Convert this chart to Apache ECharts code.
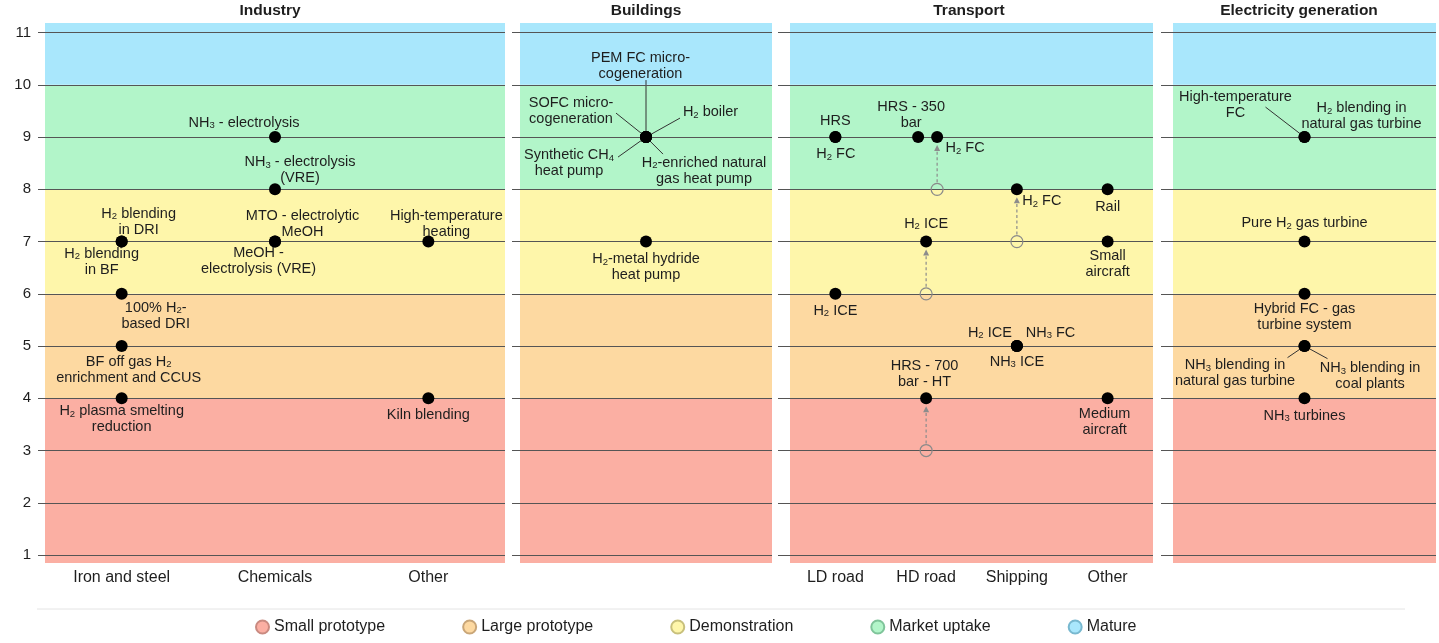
<!DOCTYPE html>
<html><head><meta charset="utf-8">
<script src="https://cdn.jsdelivr.net/npm/echarts@6/dist/echarts.min.js"></script>
<style>html,body{margin:0;padding:0;background:#fff}#chart{width:1439px;height:643px}</style>
</head><body><div id="chart"></div>
<script>
// ---------------- DATA ----------------
const stageNames = ['Small prototype', 'Large prototype', 'Demonstration', 'Market uptake', 'Mature'];
const stageBreaks = [4, 6, 8, 10];            // TRL boundaries between stages
const trlTicks = [1, 2, 3, 4, 5, 6, 7, 8, 9, 10, 11];
const sectorNames = ['Industry', 'Buildings', 'Transport', 'Electricity generation'];

const industryCats = ['Iron and steel', 'Chemicals', 'Other'];
const buildingsCats = [''];
const transportCats = ['LD road', 'HD road', 'Shipping', 'Other'];
const electricityCats = [''];

// [category, TRL, technology]  ("_n" = subscript)
const industryPoints = [
  ['Iron and steel', 7, 'H_2 blending\nin DRI'],
  ['Iron and steel', 7, 'H_2 blending\nin BF'],
  ['Iron and steel', 6, '100% H_2-\nbased DRI'],
  ['Iron and steel', 5, 'BF off gas H_2\nenrichment and CCUS'],
  ['Iron and steel', 4, 'H_2 plasma smelting\nreduction'],
  ['Chemicals', 9, 'NH_3 - electrolysis'],
  ['Chemicals', 8, 'NH_3 - electrolysis\n(VRE)'],
  ['Chemicals', 7, 'MTO - electrolytic\nMeOH'],
  ['Chemicals', 7, 'MeOH -\nelectrolysis (VRE)'],
  ['Other', 7, 'High-temperature\nheating'],
  ['Other', 4, 'Kiln blending']
];
const buildingsPoints = [
  ['', 9, 'PEM FC micro-\ncogeneration'],
  ['', 9, 'SOFC micro-\ncogeneration'],
  ['', 9, 'H_2 boiler'],
  ['', 9, 'Synthetic CH_4\nheat pump'],
  ['', 9, 'H_2-enriched natural\ngas heat pump'],
  ['', 7, 'H_2-metal hydride\nheat pump']
];
const transportPoints = [
  ['LD road', 9, 'HRS'],
  ['LD road', 9, 'H_2 FC'],
  ['LD road', 6, 'H_2 ICE'],
  ['HD road', 9, 'HRS - 350\nbar'],
  ['HD road', 9, 'H_2 FC'],
  ['HD road', 7, 'H_2 ICE'],
  ['HD road', 4, 'HRS - 700\nbar - HT'],
  ['Shipping', 8, 'H_2 FC'],
  ['Shipping', 5, 'H_2 ICE'],
  ['Shipping', 5, 'NH_3 FC'],
  ['Shipping', 5, 'NH_3 ICE'],
  ['Other', 8, 'Rail'],
  ['Other', 7, 'Small\naircraft'],
  ['Other', 4, 'Medium\naircraft']
];
// [category, previous TRL, new TRL]
const transportMoves = [
  ['HD road', 8, 9],
  ['HD road', 6, 7],
  ['HD road', 3, 4],
  ['Shipping', 7, 8]
];
const electricityPoints = [
  ['', 9, 'High-temperature\nFC'],
  ['', 9, 'H_2 blending in\nnatural gas turbine'],
  ['', 7, 'Pure H_2 gas turbine'],
  ['', 6, 'Hybrid FC - gas\nturbine system'],
  ['', 5, 'NH_3 blending in\nnatural gas turbine'],
  ['', 5, 'NH_3 blending in\ncoal plants'],
  ['', 4, 'NH_3 turbines']
];

// ---------------- STYLE / LAYOUT ----------------
const FONT = '"Liberation Sans", Arial, Helvetica, sans-serif';
const TXT = '#1e1e1e';
const stageColors = ['#fbafa3', '#fdd9a1', '#fef6aa', '#b2f5c9', '#a9e7fc'];
const stageBorders = ['#c98a80', '#c9a678', '#c8c07c', '#7fc49a', '#78b8cf'];
const Y_MIN = 0.847, Y_MAX = 11.184;
const gridBoxes = [
  { left: 45, width: 460 }, { left: 520, width: 252 },
  { left: 790, width: 363 }, { left: 1173, width: 263 }
];
const tickLens = [7, 8, 12, 12];
const titleCenters = [270, 646, 969, 1299];

// label offsets (label centre relative to dot), leader end points, horizontal dot shift
const industryLayout = [
  { off: [17, -20] }, { off: [-20, 20] }, { off: [34, 22] }, { off: [7, 23.5] }, { off: [0, 21] },
  { off: [-31, -14.5] }, { off: [25, -19] }, { off: [27.5, -17.5] }, { off: [-16.5, 19] },
  { off: [18, -17.5] }, { off: [0, 17] }
];
const buildingsLayout = [
  { off: [-5.5, -71.5], lead: [0, -57] },
  { off: [-75, -26], lead: [-30, -24] },
  { off: [64.5, -25], lead: [34, -19] },
  { off: [-77, 26], lead: [-28, 20] },
  { off: [58, 33.5], lead: [17, 17] },
  { off: [0, 25.5] }
];
const transportLayout = [
  { off: [0, -16] }, { off: [0.5, 17] }, { off: [0, 17] },
  { off: [-7, -21.7], shift: -8 }, { off: [28, 11], shift: 11 },
  { off: [0, -18] }, { off: [-1.6, -24] },
  { off: [25, 12] }, { off: [-27, -13.3] }, { off: [33.6, -13.3] }, { off: [0, 15.7] },
  { off: [0, 18] }, { off: [0, 22.7] }, { off: [-3, 24] }
];
const transportMoveShift = [11, 0, 0, 0];
const electricityLayout = [
  { off: [-69, -32], lead: [-39, -30] },
  { off: [57, -21] },
  { off: [0, -18.4] },
  { off: [0, 22.8] },
  { off: [-69.5, 27], lead: [-17, 11.6] },
  { off: [65.5, 30], lead: [23, 12.6] },
  { off: [0, 17.3] }
];

const panels = [
  { cats: industryCats, points: industryPoints, layout: industryLayout },
  { cats: buildingsCats, points: buildingsPoints, layout: buildingsLayout },
  { cats: transportCats, points: transportPoints, layout: transportLayout, moves: transportMoves },
  { cats: electricityCats, points: electricityPoints, layout: electricityLayout }
];

function richText(t) { return t.replace(/_(\d)/g, '{s|$1}'); }
const subStyle = { fontSize: 9.5, lineHeight: 8, verticalAlign: 'bottom', color: TXT, fontFamily: FONT };

const bounds = [Y_MIN].concat(stageBreaks, [Y_MAX]);
const series = [];

panels.forEach((p, i) => {
  // stage bands
  series.push({
    type: 'scatter', xAxisIndex: i, yAxisIndex: i, data: [], silent: true, z: 1,
    markArea: {
      silent: true,
      data: stageNames.map((n, k) => [
        { yAxis: bounds[k], itemStyle: { color: stageColors[k], opacity: 1 } },
        { yAxis: bounds[k + 1] }
      ])
    }
  });
  // TRL grid lines
  series.push({
    type: 'scatter', xAxisIndex: i, yAxisIndex: i, data: [], silent: true, z: 2,
    markLine: {
      silent: true, symbol: 'none', label: { show: false },
      lineStyle: { color: '#555', width: 1, type: 'solid', opacity: 1 },
      data: trlTicks.map(v => ({ yAxis: v }))
    }
  });
  // leader lines
  const leaders = [];
  p.points.forEach((pt, j) => { if (p.layout[j].lead) leaders.push({ j, value: [p.cats.indexOf(pt[0]), pt[1]] }); });
  if (leaders.length) {
    series.push({
      type: 'custom', xAxisIndex: i, yAxisIndex: i, z: 4, silent: true, clip: false,
      data: leaders.map(l => l.value),
      renderItem: (params, api) => {
        const L = p.layout[leaders[params.dataIndex].j];
        const c = api.coord([api.value(0), api.value(1)]);
        const sx = L.shift || 0;
        return { type: 'line', shape: { x1: c[0] + sx, y1: c[1], x2: c[0] + sx + L.lead[0], y2: c[1] + L.lead[1] },
                 style: { stroke: '#333', lineWidth: 1 } };
      }
    });
  }
  // TRL progress arrows and previous positions
  if (p.moves) {
    series.push({
      type: 'custom', xAxisIndex: i, yAxisIndex: i, z: 4, silent: true, clip: false,
      data: p.moves.map(m => [p.cats.indexOf(m[0]), m[1], m[2]]),
      renderItem: (params, api) => {
        const sx = transportMoveShift[params.dataIndex] || 0;
        const a = api.coord([api.value(0), api.value(1)]);
        const b = api.coord([api.value(0), api.value(2)]);
        const x = a[0] + sx, tip = b[1] + 8, base = b[1] + 13;
        return { type: 'group', children: [
          { type: 'line', shape: { x1: x, y1: a[1] - 7, x2: x, y2: base },
            style: { stroke: '#8c8c8c', lineWidth: 1.2, lineDash: [3, 2.5] } },
          { type: 'polygon', shape: { points: [[x, tip], [x - 3, base + 1], [x + 3, base + 1]] },
            style: { fill: '#8c8c8c' } }
        ] };
      }
    });
    series.push({
      type: 'scatter', xAxisIndex: i, yAxisIndex: i, z: 5, silent: true,
      symbol: 'circle', symbolSize: 12,
      itemStyle: { color: 'rgba(0,0,0,0)', borderColor: '#8a8a8a', borderWidth: 1.2, opacity: 1 },
      data: p.moves.map((m, k) => ({ value: [m[0], m[1]], symbolOffset: [transportMoveShift[k] || 0, 0] }))
    });
  }
  // technologies
  series.push({
    type: 'scatter', xAxisIndex: i, yAxisIndex: i, z: 6, silent: true,
    symbol: 'circle', symbolSize: 12, itemStyle: { color: '#000', opacity: 1 },
    label: {
      show: true, position: 'inside', color: TXT, fontFamily: FONT, fontSize: 14.5, lineHeight: 16,
      align: 'center', verticalAlign: 'middle',
      formatter: prm => richText(prm.data.tech), rich: { s: subStyle }
    },
    data: p.points.map((pt, j) => {
      const L = p.layout[j];
      return { value: [pt[0], pt[1]], tech: pt[2], symbolOffset: [L.shift || 0, 0], label: { offset: L.off } };
    })
  });
});

// legend entries
stageNames.forEach((n, k) => {
  series.push({ type: 'scatter', name: n, xAxisIndex: 0, yAxisIndex: 0, data: [],
    itemStyle: { color: stageColors[k], borderColor: stageBorders[k], borderWidth: 1, opacity: 1 } });
});

const option = {
  animation: false,
  backgroundColor: '#fff',
  textStyle: { fontFamily: FONT },
  title: sectorNames.map((n, i) => ({
    text: n, left: titleCenters[i], top: 3, textAlign: 'center', padding: 0,
    textStyle: { fontSize: 15.5, fontWeight: 'bold', color: TXT, fontFamily: FONT }
  })),
  legend: {
    data: stageNames, left: 250, top: 614, icon: 'circle', itemWidth: 13, itemHeight: 13, itemGap: 77,
    selectedMode: false, textStyle: { fontSize: 16, color: TXT, fontFamily: FONT }
  },
  grid: gridBoxes.map(g => ({ left: g.left, width: g.width, top: 23, height: 540, containLabel: false })),
  xAxis: panels.map((p, i) => ({
    type: 'category', gridIndex: i, data: p.cats, boundaryGap: true,
    axisLine: { show: false }, axisTick: { show: false }, splitLine: { show: false },
    axisLabel: { fontSize: 16, color: TXT, margin: 7, fontFamily: FONT }
  })),
  yAxis: panels.map((p, i) => ({
    type: 'value', gridIndex: i, min: Y_MIN, max: Y_MAX,
    axisLine: { show: false }, splitLine: { show: false },
    axisTick: { show: true, length: tickLens[i], customValues: trlTicks, lineStyle: { color: '#555', width: 1 } },
    axisLabel: { show: i === 0, customValues: trlTicks, fontSize: 15, color: TXT, margin: 14, fontFamily: FONT }
  })),
  graphic: [{
    type: 'line', silent: true, shape: { x1: 37, y1: 609, x2: 1405, y2: 609 },
    style: { stroke: '#e4e4e4', lineWidth: 1 }
  }],
  series
};

const chart = echarts.init(document.getElementById('chart'), null, { renderer: 'canvas' });
chart.setOption(option);
</script>
</body></html>
